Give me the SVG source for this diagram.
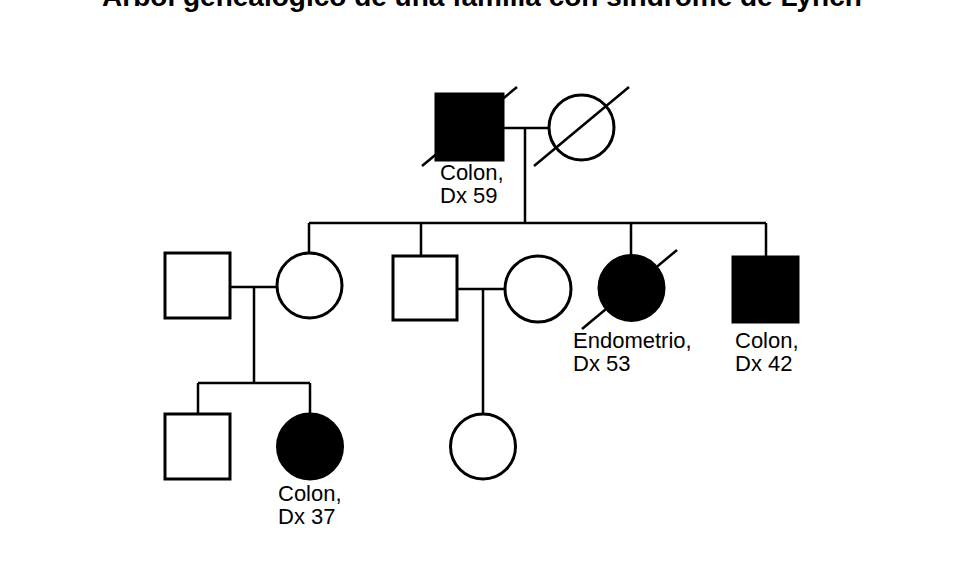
<svg xmlns="http://www.w3.org/2000/svg" width="960" height="576" viewBox="0 0 960 576">
<style>
.title{font-family:"Liberation Sans",Arial,sans-serif;font-weight:bold;font-size:28px;fill:#000}
.lbl{font-family:"Liberation Sans",Arial,sans-serif;font-size:22px;fill:#000}
.open{fill:#fff;stroke:#000;stroke-width:3}
.aff{fill:#000;stroke:#000;stroke-width:3}
.ln{fill:none;stroke:#000;stroke-width:2.5}
.dec{fill:none;stroke:#000;stroke-width:2.5}
</style>
<rect width="960" height="576" fill="#fff"/>
<text class="title" x="482" y="6" text-anchor="middle">Árbol genealógico de una familia con síndrome de Lynch</text>
<g id="connectors">
<path class="ln" d="M503 128H549M525 128V223M309 223H766M309 223V253M421 223V256M631 223V255M766 223V256"/>
<path class="ln" d="M230 287H277M254 287V383M198 383H310M198 383V414M310 383V413"/>
<path class="ln" d="M457 289H505M483 289V414"/>
</g>
<g id="father">
<rect class="aff" x="436" y="94" width="67" height="66"/>
<line class="dec" x1="422" y1="166" x2="517" y2="87"/>
<text class="lbl" x="440" y="180">Colon,</text>
<text class="lbl" x="440" y="203">Dx 59</text>
</g>
<g id="mother">
<circle class="open" cx="581.5" cy="127.5" r="32.5"/>
<line class="dec" x1="534" y1="166" x2="629" y2="87"/>
</g>
<g id="spouse1"><rect class="open" x="165" y="253" width="65" height="65"/></g>
<g id="daughter1"><circle class="open" cx="309.5" cy="285.5" r="32.5"/></g>
<g id="son1"><rect class="open" x="393" y="256" width="64" height="64"/></g>
<g id="spouse2"><circle class="open" cx="538" cy="289" r="33"/></g>
<g id="daughter2">
<circle class="aff" cx="631.5" cy="288" r="32.5"/>
<line class="dec" x1="582" y1="329" x2="677" y2="250"/>
<text class="lbl" x="573" y="348">Endometrio,</text>
<text class="lbl" x="573" y="371">Dx 53</text>
</g>
<g id="son2">
<rect class="aff" x="733" y="257" width="65" height="65"/>
<text class="lbl" x="735" y="348">Colon,</text>
<text class="lbl" x="735" y="371">Dx 42</text>
</g>
<g id="grandson1"><rect class="open" x="165" y="414" width="65" height="65"/></g>
<g id="granddaughter1">
<circle class="aff" cx="310" cy="446.5" r="32.5"/>
<text class="lbl" x="278" y="501">Colon,</text>
<text class="lbl" x="278" y="524">Dx 37</text>
</g>
<g id="granddaughter2"><circle class="open" cx="483" cy="446.5" r="32.5"/></g>
</svg>
